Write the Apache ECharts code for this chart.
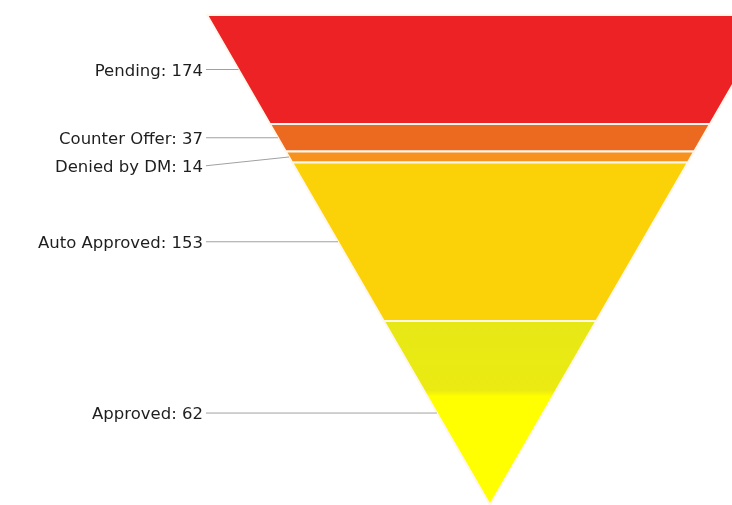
<!DOCTYPE html>
<html><head><meta charset="utf-8">
<script src="https://cdn.jsdelivr.net/npm/echarts@6/dist/echarts.min.js"></script>
<style>html,body{margin:0;padding:0;background:#fff}#c{width:732px;height:505px}</style>
</head><body><div id="c"></div>
<script>
const categories = ['Pending', 'Counter Offer', 'Denied by DM', 'Auto Approved', 'Approved'];
const values = [174, 37, 14, 153, 62];
const colors = ['#EC2224', '#EC6A20', '#F7921C', '#FBD107', null];

const total = values.reduce((a, b) => a + b, 0);
// area-proportional pyramid: height from apex = sqrt(cumulative share)
const segs = values.map((v, i) => {
  const below = values.slice(i + 1).reduce((a, b) => a + b, 0);
  return [Math.sqrt(below / total), Math.sqrt((below + v) / total), i];
});
// label positions (value units), pushed down to avoid overlap
const minGap = 28 / 490;
const labelY = [];
segs.forEach((s, i) => {
  const mid = (s[0] + s[1]) / 2;
  labelY.push(i === 0 ? mid : Math.min(mid, labelY[i - 1] - minGap));
});

const chart = echarts.init(document.getElementById('c'));
const approvedFill = new echarts.graphic.LinearGradient(0, 0, 0, 1, [
  { offset: 0, color: '#E7E716' },
  { offset: 0.38, color: '#EBEB12' },
  { offset: 0.41, color: '#FFFF00' },
  { offset: 1, color: '#FFFF00' }
]);

chart.setOption({
  animation: false,
  grid: { left: 0, right: 0, top: 15, bottom: -2 },
  xAxis: { type: 'value', min: -490 / 283, max: 242 / 283, show: false },
  yAxis: { type: 'value', min: 0, max: 1, show: false },
  series: [{
    type: 'custom',
    clip: false,
    data: segs,
    renderItem: function (params, api) {
      const lo = api.value(0), hi = api.value(1), i = api.value(2);
      const pts = [
        api.coord([-hi, hi]), api.coord([hi, hi]),
        api.coord([lo, lo]), api.coord([-lo, lo])
      ];
      const mid = (lo + hi) / 2;
      const edge = api.coord([-mid, mid]);
      const ly = api.coord([0, labelY[i]])[1];
      return {
        type: 'group',
        children: [
          {
            type: 'polygon',
            shape: { points: pts },
            style: { fill: colors[i] || approvedFill, stroke: '#FFF6EC', lineWidth: 2 }
          },
          {
            type: 'polyline',
            shape: { points: [[206, ly], edge] },
            style: { stroke: '#A0A0A0', lineWidth: 1, fill: null }
          },
          {
            type: 'text',
            x: 203, y: ly + 2,
            style: {
              text: categories[i] + ': ' + values[i],
              align: 'right', verticalAlign: 'middle',
              font: '16.5px "DejaVu Sans"', fill: '#1E1E1E'
            }
          }
        ]
      };
    }
  }]
});
</script></body></html>
